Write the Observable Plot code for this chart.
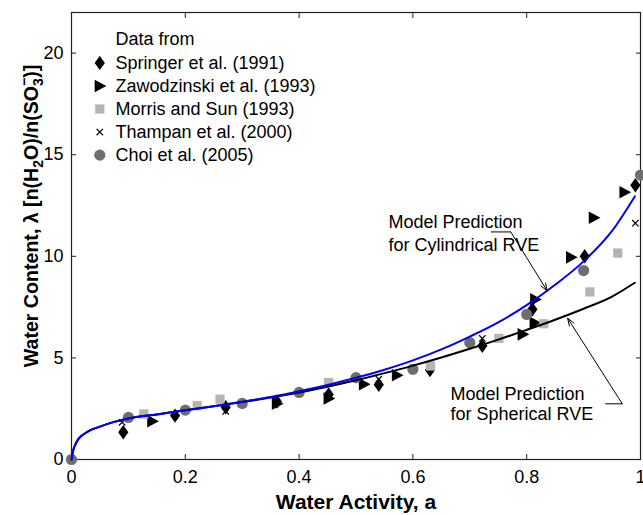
<!DOCTYPE html>
<html>
<head>
<meta charset="utf-8">
<script src="https://cdn.jsdelivr.net/npm/d3@7"></script>
<script src="https://cdn.jsdelivr.net/npm/@observablehq/plot@0.6"></script>
<style>
  html, body { margin: 0; padding: 0; background: #fff; }
  #chart svg { display: block; }
</style>
</head>
<body>
<div id="chart"></div>
<script>
// ---- Model curves ----
const cylA   = [0, 0.003, 0.007, 0.012, 0.02, 0.03, 0.05, 0.075, 0.1, 0.15, 0.2, 0.25, 0.3, 0.35, 0.4, 0.45, 0.5, 0.55, 0.6, 0.65, 0.7, 0.75, 0.8, 0.85, 0.9, 0.95, 0.99];
const cylLam = [0, 0.45, 0.75, 1.0, 1.22, 1.4, 1.62, 1.85, 2.02, 2.22, 2.42, 2.62, 2.84, 3.08, 3.36, 3.67, 4.02, 4.42, 4.88, 5.42, 6.05, 6.75, 7.6, 8.6, 9.75, 11.25, 12.95];
const sphA   = [0, 0.003, 0.007, 0.012, 0.02, 0.03, 0.05, 0.075, 0.1, 0.15, 0.2, 0.25, 0.3, 0.35, 0.4, 0.45, 0.5, 0.55, 0.6, 0.65, 0.7, 0.75, 0.8, 0.85, 0.9, 0.95, 0.99];
const sphLam = [0, 0.45, 0.75, 1.0, 1.22, 1.4, 1.62, 1.85, 2.02, 2.22, 2.42, 2.62, 2.83, 3.05, 3.3, 3.58, 3.9, 4.25, 4.62, 5.02, 5.45, 5.9, 6.38, 6.88, 7.42, 8.02, 8.7];

// ---- Measured data ----
const springerA   = [0.091, 0.182, 0.271, 0.361, 0.452, 0.54, 0.63, 0.722, 0.81, 0.902, 0.991];
const springerLam = [1.34, 2.16, 2.57, 2.85, 3.2, 3.68, 4.4, 5.6, 7.39, 10.0, 13.5];
const zawodA      = [0.142, 0.361, 0.452, 0.514, 0.572, 0.793, 0.814, 0.815, 0.878, 0.918, 0.972];
const zawodLam    = [1.88, 2.75, 3.0, 3.7, 4.15, 6.16, 6.73, 7.88, 9.95, 11.9, 13.15];
const morrisA     = [0.127, 0.221, 0.261, 0.452, 0.631, 0.751, 0.83, 0.911, 0.96];
const morrisLam   = [2.24, 2.65, 2.97, 3.79, 4.6, 5.96, 6.68, 8.25, 10.16];
const thampanA    = [0.089, 0.271, 0.54, 0.722, 0.81, 0.991];
const thampanLam  = [1.83, 2.37, 3.95, 5.96, 7.6, 11.63];
const choiA       = [0, 0.1, 0.2, 0.3, 0.4, 0.5, 0.6, 0.7, 0.8, 0.9, 1.0];
const choiLam     = [0, 2.07, 2.43, 2.76, 3.3, 4.03, 4.44, 5.75, 7.14, 9.3, 14.0];

// ---- Text ----
const legendTitle  = "Data from";
const legendLabels = ["Springer et al. (1991)", "Zawodzinski et al. (1993)", "Morris and Sun (1993)", "Thampan et al. (2000)", "Choi et al. (2005)"];
const xTicks = [0, 0.2, 0.4, 0.6, 0.8, 1];
const xTickLabels = ["0", "0.2", "0.4", "0.6", "0.8", "1"];
const yTicks = [0, 5, 10, 15, 20];
const yTickLabels = ["0", "5", "10", "15", "20"];
const xTitle = "Water Activity, a";
const cylText = ["Model Prediction", "for Cylindrical RVE"];
const sphText = ["Model Prediction", "for Spherical RVE"];
// annotation anchor points (data units)
const cylTextPos = [0.557, 11.7, 10.55];
const sphTextPos = [0.666, 3.22, 2.25];
const cylLeader = [[0.737, 11.2], [0.772, 11.2], [0.836, 8.3]];
const sphLeader = [[0.938, 2.74], [0.968, 2.74], [0.872, 6.95]];

// ---- custom symbols ----
const diamondSym = {draw(ctx, size) { const r = Math.sqrt(size / Math.PI); ctx.moveTo(0, -1.2*r); ctx.lineTo(0.85*r, 0); ctx.lineTo(0, 1.2*r); ctx.lineTo(-0.85*r, 0); ctx.closePath(); }};
const triRightSym = {draw(ctx, size) { const r = Math.sqrt(size / Math.PI); ctx.moveTo(-0.85*r, -1.05*r); ctx.lineTo(1.1*r, 0); ctx.lineTo(-0.85*r, 1.05*r); ctx.closePath(); }};
const squareSym = {draw(ctx, size) { const r = Math.sqrt(size / Math.PI); ctx.rect(-r, -r, 2*r, 2*r); }};
const timesSym = {draw(ctx, size) { const r = Math.sqrt(size / Math.PI); ctx.moveTo(-r, -r); ctx.lineTo(r, r); ctx.moveTo(r, -r); ctx.lineTo(-r, r); }};

const zip = (a, l) => a.map((v, i) => ({a: v, lam: l[i]}));
const cyl = zip(cylA, cylLam), sph = zip(sphA, sphLam);
const springer = zip(springerA, springerLam), zawod = zip(zawodA, zawodLam), morris = zip(morrisA, morrisLam), thampan = zip(thampanA, thampanLam), choi = zip(choiA, choiLam);

const styles = [
  {symbol: diamondSym, fill: "#000", r: 6},
  {symbol: triRightSym, fill: "#000", r: 6},
  {symbol: squareSym, fill: "#b4b4b4", r: 4.6},
  {symbol: timesSym, stroke: "#000", r: 3.2},
  {symbol: "circle", fill: "#6e6e6e", r: 5.6}
];

function mk(data, s) {
  return Plot.dot(data, {x: "a", y: "lam", symbol: s.symbol, r: s.r,
    fill: s.fill ? s.fill : "none", stroke: s.fill ? "none" : s.stroke, strokeWidth: s.fill ? 0 : 1.2});
}

// legend rows in data units (row spacing)
const legRowsY = legendLabels.map((_, i) => 19.52 - i * 1.135);
const legData = legendLabels.map((t, i) => ({t, y: legRowsY[i]}));

const font = "'Liberation Sans', Arial, Helvetica, sans-serif";

const plot = Plot.plot({
  width: 643, height: 515,
  marginLeft: 71, marginRight: 3, marginTop: 12, marginBottom: 56,
  style: {fontFamily: font, fontSize: "18px", color: "#000", background: "#fff"},
  x: {domain: [0, 1]},
  y: {domain: [0, 22]},
  marks: [
    Plot.frame({stroke: "#222", strokeWidth: 1.2}),
    Plot.axisX(xTicks, {anchor: "bottom", tickSize: -5, tickPadding: 16, tickFormat: (d, i) => xTickLabels[i], label: null, stroke: "#222", fill: "#000", fontSize: 18}),
    Plot.axisX(xTicks, {anchor: "top", tickSize: -5, tickFormat: () => "", label: null, stroke: "#222"}),
    Plot.axisY(yTicks, {anchor: "left", tickSize: -5, tickPadding: 13, tickFormat: (d, i) => yTickLabels[i], label: null, stroke: "#222", fill: "#000", fontSize: 18}),
    Plot.axisY(yTicks, {anchor: "right", tickSize: -5, tickFormat: () => "", label: null, stroke: "#222"}),
    mk(springer, styles[0]),
    mk(zawod, styles[1]),
    mk(morris, styles[2]),
    mk(thampan, styles[3]),
    mk(choi, styles[4]),
    Plot.line(sph, {x: "a", y: "lam", stroke: "#000", strokeWidth: 2, curve: "monotone-x"}),
    Plot.line(cyl, {x: "a", y: "lam", stroke: "#0000ff", strokeWidth: 2, curve: "monotone-x"}),
    // legend
    Plot.text([legendTitle], {x: 0.0773, y: 20.66, text: d => d, textAnchor: "start", fontSize: 18, fill: "#000"}),
    ...styles.map((s, i) => mk([{a: 0.0497, lam: legRowsY[i]}], s)),
    Plot.text(legData, {x: 0.0773, y: "y", text: "t", textAnchor: "start", fontSize: 18, fill: "#000"}),
    // annotations
    Plot.text(cylText, {x: cylTextPos[0], y: (d, i) => cylTextPos[1 + i], text: d => d, textAnchor: "start", fontSize: 18, fill: "#000"}),
    Plot.text(sphText, {x: sphTextPos[0], y: (d, i) => sphTextPos[1 + i], text: d => d, textAnchor: "start", fontSize: 18, fill: "#000"}),
    Plot.link([cylLeader], {x1: d => d[0][0], y1: d => d[0][1], x2: d => d[1][0], y2: d => d[1][1], stroke: "#000", strokeWidth: 1}),
    Plot.arrow([cylLeader], {x1: d => d[1][0], y1: d => d[1][1], x2: d => d[2][0], y2: d => d[2][1], stroke: "#000", strokeWidth: 1, headLength: 12, headAngle: 40}),
    Plot.link([sphLeader], {x1: d => d[0][0], y1: d => d[0][1], x2: d => d[1][0], y2: d => d[1][1], stroke: "#000", strokeWidth: 1}),
    Plot.arrow([sphLeader], {x1: d => d[1][0], y1: d => d[1][1], x2: d => d[2][0], y2: d => d[2][1], stroke: "#000", strokeWidth: 1, headLength: 12, headAngle: 40}),
    // axis titles
    Plot.text([xTitle], {frameAnchor: "bottom", dy: 43, lineAnchor: "middle", textAnchor: "middle", text: d => d, fontWeight: "bold", fontSize: 21, fill: "#000"}),
    Plot.text(["Water Content, λ"], {frameAnchor: "left", dx: -40, dy: -20, rotate: -90, textAnchor: "middle", lineAnchor: "middle", text: d => d, fontWeight: "bold", fontSize: 20, fill: "#000", className: "ylabel"})
  ]
});
document.getElementById("chart").appendChild(plot);

// rich y label with subscripts / superscript, fitted to the reference's extent
function buildYLabel(fs) {
  const yl = d3.select(plot).select(".ylabel text");
  const sub = Math.round(fs * 0.7);
  yl.text(null).attr("text-anchor", "middle").attr("font-size", fs + "px");
  yl.append("tspan").text("Water Content, λ [n(H");
  yl.append("tspan").attr("font-size", sub + "px").attr("dy", fs * 0.25).text("2");
  yl.append("tspan").attr("dy", -fs * 0.25).text("O)/n(SO");
  yl.append("tspan").attr("font-size", sub + "px").attr("dy", fs * 0.25).text("3");
  yl.append("tspan").attr("font-size", sub + "px").attr("dx", -sub * 0.56).attr("dy", -fs * 0.7).text("\u2212");
  yl.append("tspan").attr("dy", fs * 0.45).text(")]");
  return yl;
}
let yl = buildYLabel(20);
const targetLen = 310;
const len = yl.node().getComputedTextLength();
if (len > 0 && Math.abs(len - targetLen) > 4) {
  const fs = Math.max(15, Math.min(21, 20 * targetLen / len));
  yl = buildYLabel(+fs.toFixed(1));
}
</script>
</body>
</html>
